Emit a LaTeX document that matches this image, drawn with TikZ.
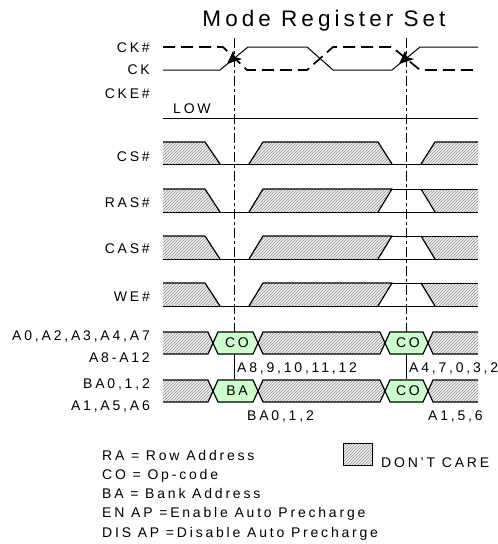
\documentclass[tikz,border=0pt]{standalone}
\usepackage{fontspec}
\setmainfont{Liberation Sans}[LetterSpace=20]
\newfontfamily\titlefont{Liberation Sans}[LetterSpace=18]
\usetikzlibrary{patterns}
\definecolor{hexgreen}{RGB}{204,255,204}
\begin{document}
\begin{tikzpicture}[x=1pt,y=-1pt,
  sig/.style={line width=1.2pt, line join=round},
  thin sig/.style={line width=1pt},
  hatch/.style={preaction={fill=gray!12}, pattern=north east lines, pattern color=gray!85},
  hexa/.style={fill=hexgreen},
  lbl/.style={font=\fontsize{14}{14}\selectfont, inner sep=0pt},
  vline/.style={line width=0.8pt, dash pattern=on 10pt off 3pt on 3pt off 3pt},
  ckdash/.style={line width=1.7pt, dash pattern=on 12pt off 6pt}]
\useasboundingbox (0,0) rectangle (498,544);

% title
\node[anchor=base, inner sep=0pt, font=\titlefont\fontsize{22.5}{22.5}\selectfont] (title) at (324,26) {Mode Register Set};

% vertical reference lines
\foreach \X in {234,406} {
  \draw[vline] (\X,38) -- (\X,332);
  \draw[thin sig] (\X,354) -- (\X,379);
}

% CK / CK#
\draw[thin sig] (163,70) -- (220,70) -- (248,47) -- (307,47) -- (333,70) -- (392,70) -- (420,47) -- (478,47);
\draw[ckdash] (163,47) -- (223,47) -- (247,70) -- (307,70) -- (333,47) -- (392,47) -- (420,70) -- (478,70);
\foreach \X in {0,172} {
  \fill[shift={(\X,0)}] (227,64) -- (233,51) -- (235,57) -- (242,59) -- cycle;
}

% CKE#
\draw[thin sig] (163,118) -- (478,118);

% CS#
\path[hatch] (163,142) -- (205,142) -- (220,164) -- (163,164) -- cycle;
\path[hatch] (249,164) -- (263,142) -- (378,142) -- (392,164) -- cycle;
\path[hatch] (421,164) -- (435,142) -- (478,142) -- (478,164) -- cycle;
\draw[thin sig] (163,164) -- (478,164);
\draw[sig] (163,142) -- (205,142) -- (220,164);
\draw[sig] (249,164) -- (263,142) -- (378,142) -- (392,164);
\draw[sig] (421,164) -- (435,142) -- (478,142);

% RAS#, CAS#, WE#
\foreach \T in {189,236,283} {
  \pgfmathsetmacro{\B}{\T+23}
  \path[hatch] (163,\T) -- (205,\T) -- (220,\B) -- (163,\B) -- cycle;
  \path[hatch] (249,\B) -- (263,\T) -- (392,\T) -- (378,\B) -- cycle;
  \path[hatch] (421,\T) -- (478,\T) -- (478,\B) -- (435,\B) -- cycle;
  \draw[thin sig] (163,\B) -- (478,\B);
  \draw[sig] (163,\T) -- (205,\T) -- (220,\B);
  \draw[sig] (249,\B) -- (263,\T) -- (392,\T) -- (378,\B);
  \draw[thin sig] (392,\T) -- (478,\T);
  \draw[sig] (421,\T) -- (435,\B);
}

% address rows
\foreach \T/\M/\B in {332/343/354, 380/391/402} {
  \path[hatch] (163,\T) -- (208,\T) -- (213,\M) -- (208,\B) -- (163,\B) -- cycle;
  \path[hexa] (213,\M) -- (218,\T) -- (253,\T) -- (258,\M) -- (253,\B) -- (218,\B) -- cycle;
  \path[hatch] (258,\M) -- (263,\T) -- (380,\T) -- (385,\M) -- (380,\B) -- (263,\B) -- cycle;
  \path[hexa] (385,\M) -- (390,\T) -- (423,\T) -- (428,\M) -- (423,\B) -- (390,\B) -- cycle;
  \path[hatch] (428,\M) -- (433,\T) -- (478,\T) -- (478,\B) -- (433,\B) -- cycle;
  \draw[sig] (163,\T) -- (208,\T) -- (218,\B) -- (253,\B) -- (263,\T) -- (380,\T) -- (390,\B) -- (423,\B) -- (433,\T) -- (478,\T);
  \draw[sig] (163,\B) -- (208,\B) -- (218,\T) -- (253,\T) -- (263,\B) -- (380,\B) -- (390,\T) -- (423,\T) -- (433,\B) -- (478,\B);
}
\node[lbl] (hco1) at (237,343) {CO};
\node[lbl] (hco2) at (408,343) {CO};
\node[lbl] (hba) at (237,391) {BA};
\node[lbl] (hco3) at (408,391) {CO};

% signal labels
\node[lbl, anchor=base east] (lckb) at (150,52) {CK\#};
\node[lbl, anchor=base east] (lck) at (150,74) {CK};
\node[lbl, anchor=base east] (lcke) at (150,98) {CKE\#};
\node[lbl, anchor=base west] (llow) at (173,113) {LOW};
\node[lbl, anchor=base east] (lcs) at (150,161) {CS\#};
\node[lbl, anchor=base east] (lras) at (150,207) {RAS\#};
\node[lbl, anchor=base east] (lcas) at (150,253) {CAS\#};
\node[lbl, anchor=base east] (lwe) at (150,301) {WE\#};
\node[lbl, anchor=base east] (la1) at (150,340) {A0,A2,A3,A4,A7};
\node[lbl, anchor=base east] (la2) at (150,362) {A8-A12};
\node[lbl, anchor=base east] (lb1) at (150,388) {BA0,1,2};
\node[lbl, anchor=base east] (lb2) at (150,410) {A1,A5,A6};

\node[lbl, anchor=base west] (va1) at (237,372) {A8,9,10,11,12};
\node[lbl, anchor=base west] (va2) at (409,372) {A4,7,0,3,2};
\node[lbl, anchor=base west] (vb1) at (247,420) {BA0,1,2};
\node[lbl, anchor=base west] (vb2) at (428,420) {A1,5,6};

% legend
\node[lbl, anchor=base west] (leg1) at (102,460) {RA = Row Address};
\node[lbl, anchor=base west] (leg2) at (102,479) {CO = Op-code};
\node[lbl, anchor=base west] (leg3) at (102,498) {BA = Bank Address};
\node[lbl, anchor=base west] (leg4) at (102,517) {EN AP =Enable Auto Precharge};
\node[lbl, anchor=base west] (leg5) at (102,537) {DIS AP =Disable Auto Precharge};
\path[hatch, draw, line width=1pt] (343,443) rectangle (372,465);
\node[lbl, anchor=base west] (dc) at (381,467) {DON'T CARE};
\end{tikzpicture}
\end{document}
